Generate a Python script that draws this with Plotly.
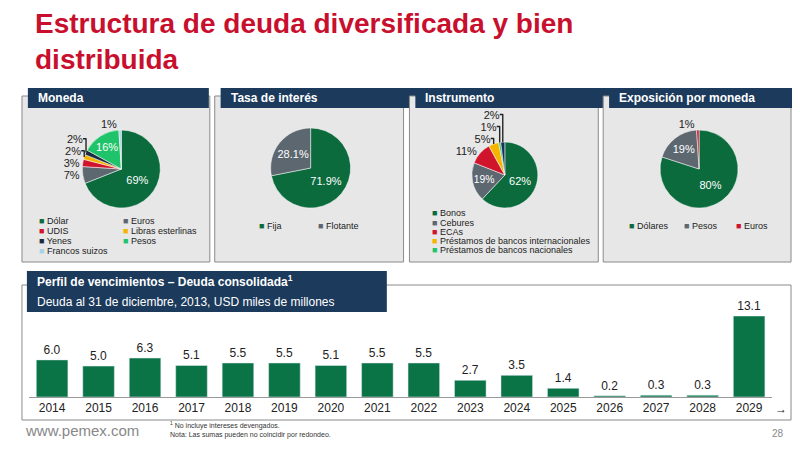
import plotly.graph_objects as go

# Data
moneda_labels = ["Dólar", "Euros", "UDIS", "Libras esterlinas", "Yenes", "Pesos", "Francos suizos"]
moneda_values = [69, 7, 3, 2, 2, 16, 1]
moneda_colors = ["#0b6b3d", "#5d6770", "#d0142c", "#f5b400", "#1b2a40", "#1fc46a", "#a9d2e8"]

tasa_labels = ["Fija", "Flotante"]
tasa_values = [71.9, 28.1]
tasa_colors = ["#0b6b3d", "#5d6770"]

instr_labels = ["Bonos", "Cebures", "ECAs", "Préstamos de bancos internacionales",
                "Préstamos de bancos nacionales", "Otros"]
instr_values = [62, 19, 11, 5, 1, 2]
instr_colors = ["#0b6b3d", "#5d6770", "#d0142c", "#f5b400", "#1fc46a", "#16325c"]

expo_labels = ["Dólares", "Pesos", "Euros"]
expo_values = [80, 19, 1]
expo_colors = ["#0b6b3d", "#5d6770", "#d0142c"]

years = ["2014", "2015", "2016", "2017", "2018", "2019", "2020", "2021",
         "2022", "2023", "2024", "2025", "2026", "2027", "2028", "2029"]
deuda = [6.0, 5.0, 6.3, 5.1, 5.5, 5.5, 5.1, 5.5, 5.5, 2.7, 3.5, 1.4, 0.2, 0.3, 0.3, 13.1]

# page has an 8px body margin, so the figure is drawn 8px in from the window corner
OFF = 8
W, H = 800 - 2 * OFF, 450 - 2 * OFF
NAVY = "#1b3a5c"
GREEN = "#0b7446"


def fx(x):
    return (x - OFF) / W


def fy(y):
    return 1 - (y - OFF) / H


def px(x0, x1):
    return [max(fx(x0), 0), min(fx(x1), 1)]


def py(top, bottom):
    return [max(fy(bottom), 0), min(fy(top), 1)]


fig = go.Figure()


def add_pie(labels, values, colors, x0, x1, top, bottom, outside):
    fig.add_trace(go.Pie(
        labels=labels, values=values, sort=False, direction="clockwise",
        marker=dict(colors=colors, line=dict(color="white", width=0.5)),
        texttemplate="%{value}%", textinfo="text",
        textposition=["outside" if o else "inside" for o in outside],
        insidetextorientation="horizontal",
        insidetextfont=dict(color="white", size=11),
        outsidetextfont=dict(color="#222", size=11),
        domain=dict(x=px(x0, x1), y=py(top, bottom)),
        showlegend=False, hoverinfo="label+percent",
    ))


add_pie(moneda_labels, moneda_values, moneda_colors, 45, 175, 130, 208,
        [False, True, True, True, True, False, True])
add_pie(tasa_labels, tasa_values, tasa_colors, 240, 365, 128, 208, [False, False])
add_pie(instr_labels, instr_values, instr_colors, 435, 565, 142, 208,
        [False, False, True, True, True, True])
add_pie(expo_labels, expo_values, expo_colors, 635, 760, 130, 208, [False, False, True])

# Maturity profile bars
fig.add_trace(go.Bar(
    x=years, y=deuda, marker_color=GREEN, width=0.68,
    text=[f"{v:.1f}" for v in deuda], textposition="outside",
    textfont=dict(size=12, color="#222"), cliponaxis=False,
    showlegend=False, xaxis="x", yaxis="y",
))

shapes = [dict(type="rect", xref="paper", yref="paper", x0=0, x1=1, y0=fy(4), y1=1,
               fillcolor=GREEN, line_width=0)]
annotations = []


def panel(x0, x1, top, bottom, title, head_w):
    shapes.append(dict(type="rect", xref="paper", yref="paper", layer="below",
                       x0=fx(x0), x1=fx(x1), y0=fy(bottom), y1=fy(top + 8),
                       fillcolor="#e7e7e7", line=dict(color="#8a8a8a", width=1)))
    shapes.append(dict(type="rect", xref="paper", yref="paper", layer="below",
                       x0=fx(x0 + 6), x1=fx(x0 + head_w), y0=fy(top + 20), y1=fy(top),
                       fillcolor=NAVY, line_width=0))
    annotations.append(dict(xref="paper", yref="paper", x=fx(x0 + 14), y=fy(top + 10),
                            text=f"<b>{title}</b>", showarrow=False, xanchor="left",
                            yanchor="middle", font=dict(color="white", size=12)))


panel(9, 200, 88, 262, "Moneda", 190)
panel(205, 397, 88, 262, "Tasa de interés", 388)
panel(403, 595, 88, 262, "Instrumento", 585)
panel(600, 791, 88, 262, "Exposición por moneda", 782)


def legend(x, y, labels, colors, font=9):
    for i, (lab, col) in enumerate(zip(labels, colors)):
        annotations.append(dict(xref="paper", yref="paper", x=fx(x[i]), y=fy(y[i]),
                                text=f"<span style='color:{col}'>■</span> {lab}",
                                showarrow=False, xanchor="left", yanchor="middle",
                                font=dict(size=font, color="#222")))


legend([24, 110, 24, 110, 24, 110, 24],
       [221, 221, 231, 231, 241, 241, 251], moneda_labels, moneda_colors)
legend([248, 308], [226, 226], tasa_labels, tasa_colors)
legend([424] * 5, [213, 223, 232, 241, 250], instr_labels[:5], instr_colors[:5])
legend([624, 680, 733], [226, 226, 226], expo_labels, expo_colors)

# Bottom panel
shapes.append(dict(type="rect", xref="paper", yref="paper", layer="below",
                   x0=fx(9), x1=fx(791), y0=fy(420), y1=fy(285),
                   fillcolor="white", line=dict(color="#8a8a8a", width=1)))
shapes.append(dict(type="rect", xref="paper", yref="paper", layer="below",
                   x0=fx(14), x1=fx(380), y0=fy(312), y1=fy(271),
                   fillcolor=NAVY, line_width=0))
annotations.append(dict(xref="paper", yref="paper", x=fx(22), y=fy(281),
                        text="<b>Perfil de vencimientos – Deuda consolidada<sup>1</sup></b>",
                        showarrow=False, xanchor="left", yanchor="middle",
                        font=dict(color="white", size=12)))
annotations.append(dict(xref="paper", yref="paper", x=fx(22), y=fy(302),
                        text="Deuda al 31 de diciembre, 2013, USD miles de millones",
                        showarrow=False, xanchor="left", yanchor="middle",
                        font=dict(color="white", size=12)))
annotations.append(dict(xref="paper", yref="paper", x=fx(781), y=fy(409), text="→",
                        showarrow=False, xanchor="center", yanchor="middle",
                        font=dict(size=12, color="#222")))

# Title and footer
annotations.append(dict(xref="paper", yref="paper", x=fx(20), y=fy(6),
                        text="<b>Estructura de deuda diversificada y bien<br>distribuida</b>",
                        showarrow=False, xanchor="left", yanchor="top", align="left",
                        font=dict(color="#c8102e", size=28, family="Liberation Sans, Arial")))
annotations.append(dict(xref="paper", yref="paper", x=fx(10), y=fy(441),
                        text="www.pemex.com", showarrow=False, xanchor="left",
                        yanchor="bottom", font=dict(color="#888", size=15)))
annotations.append(dict(xref="paper", yref="paper", x=fx(157), y=fy(441),
                        text="<sup>1</sup> No incluye intereses devengados.<br>"
                             "Nota: Las sumas pueden no coincidir por redondeo.",
                        showarrow=False, xanchor="left", yanchor="bottom", align="left",
                        font=dict(color="#333", size=7)))
annotations.append(dict(xref="paper", yref="paper", x=fx(786), y=fy(441), text="28",
                        showarrow=False, xanchor="right", yanchor="bottom",
                        font=dict(color="#888", size=10)))

fig.update_layout(
    width=W, height=H, margin=dict(l=0, r=0, t=0, b=0),
    paper_bgcolor="white", plot_bgcolor="white",
    font=dict(family="Liberation Sans, Arial", color="#222"),
    xaxis=dict(domain=px(16, 772), showgrid=False, showline=True, linecolor="#999",
               ticks="", tickfont=dict(size=12, color="#222")),
    yaxis=dict(domain=py(316, 397), range=[0, 13.1], visible=False),
    bargap=0.3,
    shapes=shapes, annotations=annotations,
)

fig.write_html("out.html")
